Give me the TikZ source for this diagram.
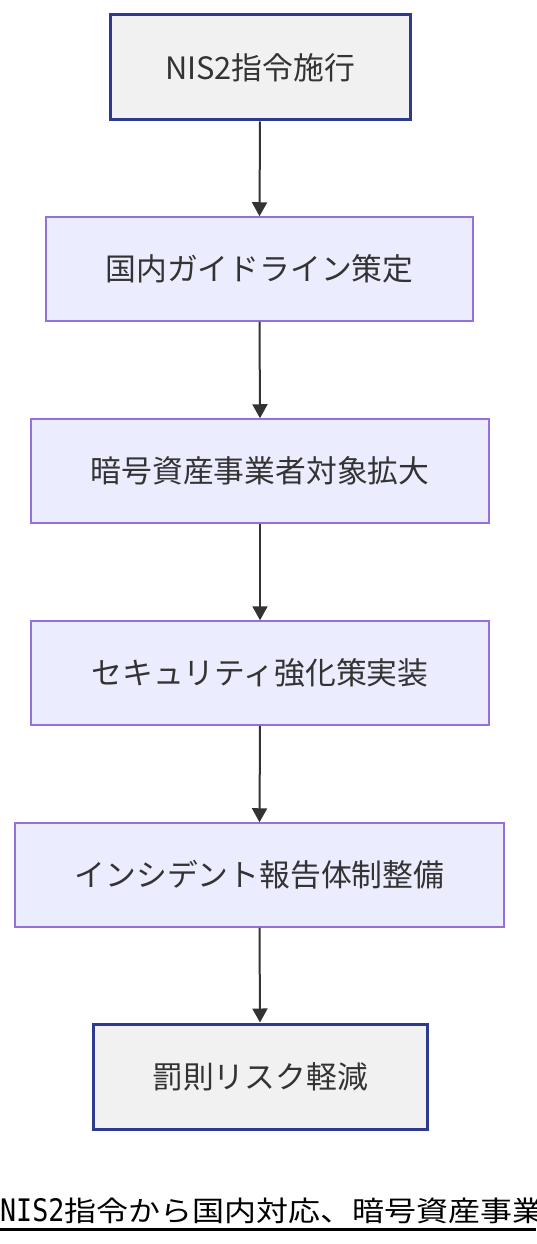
\documentclass[tikz,border=0pt]{standalone}
\usepackage{fontspec}
\setmainfont{Noto Sans CJK JP}
\newfontfamily\jpfont{Noto Sans CJK JP}
\newfontfamily\capmono{DejaVu Sans Mono}
\usetikzlibrary{arrows.meta}
\definecolor{termfill}{HTML}{F1F1F1}
\definecolor{termdraw}{HTML}{2E3A8C}
\definecolor{stepfill}{HTML}{ECECFF}
\definecolor{stepdraw}{HTML}{9370DB}
\definecolor{arrowcol}{HTML}{333333}
\definecolor{txtcol}{HTML}{333333}
\begin{document}
\begin{tikzpicture}[x=1pt,y=-1pt,
  base/.style={rectangle, inner sep=0pt, text=txtcol, font=\jpfont\fontsize{30.8}{36}\selectfont},
  termbox/.style={base, fill=termfill, draw=termdraw, line width=3pt},
  stepbox/.style={base, fill=stepfill, draw=stepdraw, line width=1.5pt},
  flow/.style={draw=arrowcol, line width=2pt, -{Triangle[length=14pt,width=15pt]}},
  captext/.style={anchor=base west, inner sep=0pt, text=black}
]
\useasboundingbox (0,0) rectangle (536,1244);
\clip (0,0) rectangle (536,1244);
\node[termbox, minimum width=300pt, minimum height=105pt] (n1) at (260,67.5) {NIS2指令施行};
\node[stepbox, minimum width=427pt, minimum height=104pt] (n2) at (259.5,269) {国内ガイドライン策定};
\node[stepbox, minimum width=458pt, minimum height=104pt] (n3) at (260,471) {暗号資産事業者対象拡大};
\node[stepbox, minimum width=458pt, minimum height=104pt] (n4) at (260,673) {セキュリティ強化策実装};
\node[stepbox, minimum width=489pt, minimum height=104pt] (n5) at (259.5,875) {インシデント報告体制整備};
\node[termbox, minimum width=334pt, minimum height=105pt] (n6) at (260,1076.5) {罰則リスク軽減};
\draw[flow] (n1.south) -- (n2.north);
\draw[flow] (n2.south) -- (n3.north);
\draw[flow] (n3.south) -- (n4.north);
\draw[flow] (n4.south) -- (n5.north);
\draw[flow] (n5.south) -- (n6.north);
\node[captext] (capa) at (0,1221) {\scalebox{0.86}[1]{\capmono\fontsize{31}{34}\selectfont NIS2}};
\node[captext] (capb) at (64,1221) {\scalebox{1.143}[1]{\jpfont\fontsize{28}{34}\selectfont 指令から国内対応、暗号資産事業}};
\coordinate (ul1) at (0,1229.5);
\coordinate (ul2) at (536,1229.5);
\draw[black, line width=2.2pt] (ul1) -- (ul2);
\end{tikzpicture}
\end{document}
